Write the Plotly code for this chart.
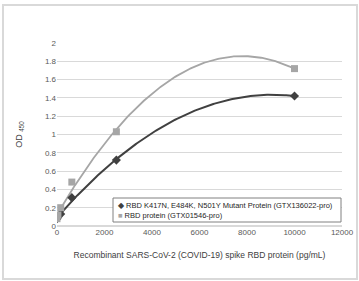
import numpy as np
import plotly.graph_objects as go

conc = [0, 39, 156, 625, 2500, 10000]
mutant_od = [0.08, 0.10, 0.13, 0.31, 0.72, 1.42]
rbd_od = [0.08, 0.12, 0.20, 0.48, 1.03, 1.72]
mutant_name = "RBD K417N, E484K, N501Y Mutant Protein (GTX136022-pro)"
rbd_name = "RBD protein (GTX01546-pro)"
x_ticks = [0, 2000, 4000, 6000, 8000, 10000, 12000]
y_ticks = [0, 0.2, 0.4, 0.6, 0.8, 1, 1.2, 1.4, 1.6, 1.8, 2]

dark = "#404040"
light = "#a6a6a6"

xs = np.linspace(min(conc), max(conc), 200)
fit1 = np.polyval(np.polyfit(conc, mutant_od, 2), xs)
fit2 = np.polyval(np.polyfit(conc, rbd_od, 2), xs)

fig = go.Figure()
fig.add_trace(go.Scatter(x=xs, y=fit2, mode="lines", line=dict(color=light, width=1.8),
                         showlegend=False, hoverinfo="skip"))
fig.add_trace(go.Scatter(x=xs, y=fit1, mode="lines", line=dict(color=dark, width=2),
                         showlegend=False, hoverinfo="skip"))
fig.add_trace(go.Scatter(x=conc, y=mutant_od, mode="markers", name=mutant_name,
                         marker=dict(symbol="diamond", size=7, color=dark), showlegend=False))
fig.add_trace(go.Scatter(x=conc, y=rbd_od, mode="markers", name=rbd_name,
                         marker=dict(symbol="square", size=7, color=light), showlegend=False))

font = "Liberation Sans"
W, H = 359, 281
L, R, T, B = 57, 17, 43, 55
pw, ph = W - L - R, H - T - B

def px(x):
    return (x - L) / pw

def py(y):
    return (H - B - y) / ph

legend_text = (f'<span style="color:{dark}">◆</span> {mutant_name}<br>'
               f'<span style="color:{light}">■</span> {rbd_name}')

fig.update_layout(
    width=W, height=H,
    margin=dict(l=L, r=R, t=T, b=B, autoexpand=False),
    paper_bgcolor="white", plot_bgcolor="white",
    font=dict(family=font, size=8, color="#595959"),
    showlegend=False,
    xaxis=dict(range=[0, 12000], tickvals=x_ticks, ticktext=[str(v) for v in x_ticks],
               showgrid=False, zeroline=False, ticklabeloverflow="allow",
               showline=False, ticks="",
               title=dict(text="Recombinant SARS-CoV-2 (COVID-19) spike RBD protein (pg/mL)",
                          font=dict(size=8.5, color="#404040"), standoff=16)),
    yaxis=dict(range=[0, 2], tickvals=y_ticks, ticktext=[str(v) for v in y_ticks],
               showgrid=True, gridcolor="#d9d9d9", gridwidth=1, zeroline=True,
               zerolinecolor="#d9d9d9", showline=False, ticks="",
               title=dict(text="OD <sub>450</sub>", font=dict(size=9, color="#404040"), standoff=20)),
    shapes=[
        dict(type="rect", xref="paper", yref="paper", x0=px(3), x1=px(357), y0=py(279), y1=py(5),
             line=dict(color="#d9d9d9", width=2)),
        dict(type="rect", xref="paper", yref="paper", x0=px(113), x1=px(341), y0=py(222), y1=py(198),
             line=dict(color="#808080", width=1), fillcolor="white", layer="above"),
    ],
    annotations=[
        dict(xref="paper", yref="paper", x=px(116), y=py(210), xanchor="left", yanchor="middle",
             text=legend_text, showarrow=False, align="left",
             font=dict(size=7.5, color="#262626", family=font)),
    ],
)
fig.write_html("out.html", config={"displayModeBar": False},
               post_script="document.body.style.margin='0';document.body.style.overflow='hidden';")
